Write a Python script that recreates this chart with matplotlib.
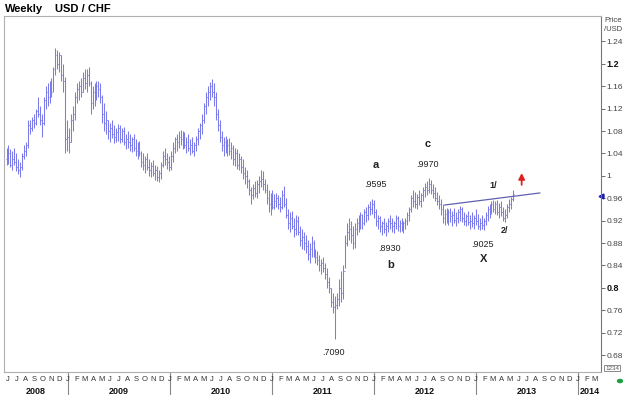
import datetime as dt
import numpy as np
import pandas as pd
import matplotlib
matplotlib.use("Agg")
import matplotlib.pyplot as plt
import matplotlib.dates as mdates
import matplotlib.transforms as mtransforms

plt.rcParams['font.family'] = ['Liberation Sans', 'DejaVu Sans']

# Weekly USD/CHF bars, first week starting 26 May 2008
first_week = "2008-05-26"

highs = [
    1.050, 1.055, 1.048, 1.045, 1.050, 1.040, 1.030, 1.025, 1.040, 1.055,
    1.060, 1.100, 1.100, 1.105, 1.110, 1.120, 1.140, 1.125, 1.110, 1.140,
    1.160, 1.165, 1.170, 1.175, 1.195, 1.228, 1.225, 1.222, 1.215, 1.200,
    1.176, 1.100, 1.085, 1.110, 1.125, 1.150, 1.165, 1.170, 1.175, 1.185,
    1.190, 1.190, 1.195, 1.170, 1.160, 1.165, 1.170, 1.170, 1.165, 1.145,
    1.130, 1.115, 1.100, 1.095, 1.100, 1.090, 1.085, 1.092, 1.090, 1.085,
    1.088, 1.075, 1.080, 1.075, 1.070, 1.075, 1.065, 1.060, 1.062, 1.045,
    1.040, 1.035, 1.040, 1.030, 1.025, 1.028, 1.020, 1.018, 1.010, 1.025,
    1.045, 1.050, 1.040, 1.035, 1.045, 1.060, 1.070, 1.075, 1.080, 1.082,
    1.080, 1.078, 1.070, 1.075, 1.065, 1.070, 1.060, 1.072, 1.085, 1.095,
    1.110, 1.130, 1.150, 1.160, 1.168, 1.173, 1.165, 1.150, 1.120, 1.100,
    1.080, 1.070, 1.072, 1.065, 1.068, 1.060, 1.055, 1.050, 1.048, 1.040,
    1.035, 1.030, 1.015, 1.010, 0.995, 0.980, 0.985, 0.990, 0.992, 1.000,
    1.010, 1.008, 0.995, 0.985, 0.975, 0.970, 0.975, 0.968, 0.970, 0.965,
    0.962, 0.975, 0.982, 0.960, 0.940, 0.935, 0.938, 0.925, 0.930, 0.928,
    0.910, 0.905, 0.900, 0.895, 0.885, 0.880, 0.893, 0.885, 0.870, 0.865,
    0.858, 0.852, 0.855, 0.845, 0.835, 0.820, 0.800, 0.790, 0.785, 0.790,
    0.815, 0.830, 0.840, 0.895, 0.915, 0.925, 0.920, 0.910, 0.915, 0.925,
    0.930, 0.935, 0.932, 0.940, 0.945, 0.950, 0.955, 0.9595, 0.957, 0.940,
    0.930, 0.928, 0.920, 0.925, 0.918, 0.925, 0.930, 0.925, 0.920, 0.930,
    0.928, 0.922, 0.925, 0.920, 0.925, 0.935, 0.945, 0.965, 0.975, 0.972,
    0.968, 0.975, 0.970, 0.980, 0.988, 0.990, 0.997, 0.992, 0.985, 0.980,
    0.972, 0.965, 0.958, 0.950, 0.940, 0.942, 0.940, 0.943, 0.938, 0.942,
    0.935, 0.940, 0.946, 0.945, 0.935, 0.932, 0.938, 0.930, 0.935, 0.930,
    0.940, 0.932, 0.925, 0.930, 0.925, 0.935, 0.946, 0.950, 0.955, 0.957,
    0.955, 0.957, 0.952, 0.955, 0.945, 0.940, 0.950, 0.958, 0.962, 0.975,
]

lows = [
    1.020, 1.022, 1.015, 1.010, 1.020, 1.008, 1.003, 0.998, 1.010, 1.030,
    1.035, 1.050, 1.075, 1.080, 1.085, 1.090, 1.105, 1.090, 1.070, 1.090,
    1.120, 1.125, 1.130, 1.140, 1.150, 1.180, 1.190, 1.185, 1.170, 1.150,
    1.040, 1.045, 1.040, 1.060, 1.080, 1.100, 1.130, 1.135, 1.140, 1.150,
    1.155, 1.150, 1.160, 1.110, 1.120, 1.125, 1.135, 1.140, 1.130, 1.095,
    1.080, 1.075, 1.065, 1.060, 1.068, 1.058, 1.060, 1.062, 1.058, 1.060,
    1.055, 1.048, 1.050, 1.045, 1.042, 1.045, 1.035, 1.030, 1.035, 1.015,
    1.010, 1.005, 1.010, 1.000, 0.998, 1.000, 0.993, 0.990, 0.989, 0.995,
    1.015, 1.020, 1.012, 1.008, 1.010, 1.025, 1.040, 1.045, 1.050, 1.055,
    1.048, 1.050, 1.040, 1.045, 1.038, 1.040, 1.035, 1.045, 1.055, 1.065,
    1.075, 1.095, 1.110, 1.125, 1.135, 1.140, 1.125, 1.100, 1.080, 1.060,
    1.045, 1.035, 1.040, 1.035, 1.038, 1.030, 1.020, 1.018, 1.012, 1.010,
    1.005, 0.995, 0.985, 0.978, 0.965, 0.950, 0.958, 0.962, 0.960, 0.970,
    0.980, 0.975, 0.970, 0.950, 0.935, 0.930, 0.940, 0.940, 0.945, 0.940,
    0.935, 0.940, 0.945, 0.925, 0.905, 0.900, 0.905, 0.890, 0.895, 0.895,
    0.875, 0.870, 0.868, 0.862, 0.850, 0.845, 0.855, 0.855, 0.845, 0.840,
    0.830, 0.825, 0.828, 0.815, 0.800, 0.790, 0.765, 0.755, 0.709, 0.762,
    0.768, 0.775, 0.780, 0.835, 0.875, 0.885, 0.880, 0.870, 0.872, 0.895,
    0.900, 0.905, 0.905, 0.912, 0.918, 0.922, 0.930, 0.932, 0.925, 0.910,
    0.905, 0.900, 0.895, 0.898, 0.893, 0.900, 0.905, 0.900, 0.898, 0.905,
    0.902, 0.900, 0.902, 0.898, 0.905, 0.912, 0.920, 0.935, 0.945, 0.942,
    0.940, 0.948, 0.945, 0.955, 0.962, 0.965, 0.970, 0.968, 0.960, 0.955,
    0.948, 0.940, 0.930, 0.915, 0.912, 0.915, 0.912, 0.918, 0.910, 0.915,
    0.910, 0.915, 0.920, 0.918, 0.912, 0.910, 0.912, 0.905, 0.908, 0.905,
    0.912, 0.905, 0.9025, 0.905, 0.903, 0.912, 0.920, 0.925, 0.932, 0.935,
    0.932, 0.930, 0.925, 0.928, 0.920, 0.918, 0.925, 0.935, 0.940, 0.955,
]

closes = [
    1.035, 1.040, 1.020, 1.030, 1.025, 1.015, 1.010, 1.015, 1.035, 1.045,
    1.055, 1.090, 1.085, 1.100, 1.095, 1.115, 1.110, 1.100, 1.095, 1.135,
    1.150, 1.140, 1.160, 1.150, 1.190, 1.215, 1.200, 1.215, 1.180, 1.170,
    1.065, 1.070, 1.060, 1.100, 1.110, 1.140, 1.155, 1.160, 1.150, 1.175,
    1.165, 1.180, 1.165, 1.130, 1.150, 1.140, 1.160, 1.155, 1.140, 1.110,
    1.095, 1.100, 1.080, 1.085, 1.075, 1.070, 1.078, 1.085, 1.065, 1.080,
    1.060, 1.065, 1.060, 1.055, 1.065, 1.050, 1.045, 1.050, 1.040, 1.025,
    1.020, 1.030, 1.015, 1.010, 1.018, 1.005, 1.010, 0.998, 1.005, 1.020,
    1.035, 1.030, 1.025, 1.015, 1.035, 1.050, 1.065, 1.060, 1.070, 1.065,
    1.075, 1.055, 1.060, 1.050, 1.055, 1.045, 1.055, 1.065, 1.080, 1.090,
    1.100, 1.125, 1.140, 1.150, 1.160, 1.150, 1.140, 1.110, 1.090, 1.070,
    1.055, 1.060, 1.050, 1.055, 1.045, 1.050, 1.030, 1.040, 1.020, 1.030,
    1.015, 1.005, 1.000, 0.990, 0.975, 0.965, 0.978, 0.970, 0.985, 0.990,
    0.995, 0.985, 0.975, 0.960, 0.950, 0.960, 0.945, 0.955, 0.960, 0.950,
    0.945, 0.965, 0.950, 0.930, 0.915, 0.925, 0.910, 0.905, 0.920, 0.900,
    0.885, 0.890, 0.880, 0.875, 0.860, 0.870, 0.880, 0.865, 0.855, 0.850,
    0.840, 0.845, 0.835, 0.825, 0.810, 0.800, 0.775, 0.765, 0.770, 0.780,
    0.800, 0.790, 0.830, 0.880, 0.900, 0.905, 0.895, 0.880, 0.905, 0.915,
    0.920, 0.930, 0.915, 0.935, 0.930, 0.945, 0.940, 0.950, 0.935, 0.920,
    0.925, 0.910, 0.915, 0.905, 0.910, 0.920, 0.915, 0.910, 0.915, 0.925,
    0.910, 0.915, 0.912, 0.915, 0.920, 0.930, 0.940, 0.960, 0.955, 0.950,
    0.962, 0.955, 0.965, 0.975, 0.980, 0.975, 0.985, 0.975, 0.970, 0.960,
    0.955, 0.950, 0.940, 0.925, 0.932, 0.925, 0.935, 0.928, 0.930, 0.922,
    0.925, 0.935, 0.940, 0.925, 0.920, 0.928, 0.918, 0.920, 0.915, 0.925,
    0.920, 0.910, 0.915, 0.912, 0.920, 0.930, 0.940, 0.945, 0.950, 0.940,
    0.950, 0.935, 0.945, 0.935, 0.925, 0.930, 0.945, 0.950, 0.958, 0.968,
]
first_open = 1.030

# Trend line drawn on the chart (two anchor points)
trend_dates = ["2012-09-11", "2013-08-17"]
trend_prices = [0.948, 0.9695]

# Wave labels: (text, date, price, bold, size)
wave_labels = [
    ("a", "2012-01-08", 1.020, True, 8),
    (".9595", "2012-01-05", 0.984, False, 6.5),
    ("c", "2012-07-12", 1.057, True, 8),
    (".9970", "2012-07-12", 1.020, False, 6.5),
    (".8930", "2012-02-27", 0.871, False, 6.5),
    ("b", "2012-03-01", 0.841, True, 8),
    (".9025", "2013-01-25", 0.877, False, 6.5),
    ("X", "2013-01-28", 0.852, True, 8),
    ("1/", "2013-03-05", 0.982, True, 6.5),
    ("2/", "2013-04-14", 0.902, True, 6.5),
    (".7090", "2011-08-10", 0.684, False, 6.5),
]

price_ticks = [1.24, 1.2, 1.16, 1.12, 1.08, 1.04, 1.0, 0.96, 0.92, 0.88,
               0.84, 0.8, 0.76, 0.72, 0.68]
bold_ticks = [1.2, 0.8]
month_letters = ["J", "F", "M", "A", "M", "J", "J", "A", "S", "O", "N", "D"]

x_start = dt.datetime(2008, 5, 17)
x_end = dt.datetime(2014, 3, 24)
bar_color = "#7c7ce8"


def draw_bars(ax, dates, opens):
    """Draw OHLC bars: vertical range, left tick open, right tick close."""
    x = mdates.date2num(dates)
    ax.vlines(x, lows, highs, color=bar_color, linewidth=0.75)
    ax.hlines(opens, x - 3, x, color=bar_color, linewidth=0.7)
    ax.hlines(closes, x, x + 3, color=bar_color, linewidth=0.7)


def draw_time_axis(ax):
    """Month letters and year labels under the plot."""
    trans = mtransforms.blended_transform_factory(ax.transData, ax.transAxes)
    x0, x1 = mdates.date2num(x_start), mdates.date2num(x_end)
    months = pd.date_range("2008-06-01", "2014-03-01", freq="MS")
    for m in months:
        ax.text(mdates.date2num(m), -0.012, month_letters[m.month - 1],
                transform=trans, ha="center", va="top", fontsize=5.5,
                color="#333333")
    for year in range(2008, 2015):
        ys = mdates.date2num(dt.datetime(year, 1, 1))
        ye = mdates.date2num(dt.datetime(year + 1, 1, 1))
        if x0 < ys < x1:
            ax.plot([ys, ys], [0, -0.07], transform=trans, color="#888888",
                    linewidth=0.8, clip_on=False)
        mid = (max(ys, x0) + min(ye, x1)) / 2
        ax.text(mid, -0.042, str(year), transform=trans, ha="center",
                va="top", fontsize=6.5, fontweight="bold", color="#111111")


def main():
    fig = plt.figure(figsize=(6.23, 3.95), dpi=100)
    ax = fig.add_axes([4 / 623, 1 - 372 / 395, 597 / 623, 356 / 395])

    dates = pd.date_range(first_week, periods=len(highs), freq="7D")
    opens = [first_open] + closes[:-1]
    draw_bars(ax, dates, opens)

    # Trend line
    ax.plot(mdates.date2num(pd.to_datetime(trend_dates)), trend_prices,
            color="#6060b0", linewidth=0.9)

    # Wave labels
    for text, day, price, bold, size in wave_labels:
        ax.text(mdates.date2num(pd.Timestamp(day)), price, text,
                ha="center", va="center", fontsize=size,
                fontweight="bold" if bold else "normal", color="#222222")

    # Red arrow
    arrow_x = mdates.date2num(pd.Timestamp("2013-06-13"))
    ax.annotate("", xy=(arrow_x, 1.005), xytext=(arrow_x, 0.984),
                arrowprops=dict(arrowstyle="-|>,head_width=0.18,head_length=0.35",
                                color="#e02020", lw=1.3, shrinkA=0, shrinkB=0))

    # Last price marker on the price scale
    ax.plot([mdates.date2num(x_end)], [closes[-1] - 0.004], marker="<",
            color="#1a1ab0", markersize=3.5, clip_on=False)

    ax.set_xlim(mdates.date2num(x_start), mdates.date2num(x_end))
    ax.set_ylim(0.6498, 1.2855)
    ax.set_xticks([])

    ax.yaxis.tick_right()
    ax.set_yticks(price_ticks)
    ax.set_yticklabels(["%g" % t for t in price_ticks])
    ax.tick_params(axis="y", labelsize=6, colors="#555555", length=3,
                   width=0.6, pad=1)
    for t, lab in zip(price_ticks, ax.get_yticklabels()):
        lab.set_color("#444444")
        if t in bold_ticks:
            lab.set_fontweight("bold")
            lab.set_color("#111111")
            lab.set_fontsize(6.5)

    for side in ["left", "top", "bottom"]:
        ax.spines[side].set_color("#b0b0b0")
        ax.spines[side].set_linewidth(0.8)
    ax.spines["right"].set_color("#777777")
    ax.spines["right"].set_linewidth(0.8)

    draw_time_axis(ax)

    # Header text
    fig.text(5 / 623, 1 - 9 / 395, "Weekly", fontsize=8, fontweight="bold",
             va="center", ha="left")
    fig.text(55 / 623, 1 - 9 / 395, "USD / CHF", fontsize=8,
             fontweight="bold", va="center", ha="left")
    fig.text(604 / 623, 1 - 25 / 395, "Price\n/USD", fontsize=5.5,
             color="#444444", va="center", ha="left", linespacing=1.3)

    # Small scale box and status dot bottom right
    fig.text(612 / 623, 1 - 368 / 395, "1234", fontsize=4.5, color="#555555",
             ha="center", va="center",
             bbox=dict(boxstyle="square,pad=0.15", fc="white", ec="#777777",
                       lw=0.6))
    fig.patches.append(plt.Circle((620 / 623, 1 - 381 / 395), 0.004,
                                  transform=fig.transFigure, color="#20a040"))

    fig.savefig("out.png", dpi=100)


if __name__ == '__main__':
    main()
